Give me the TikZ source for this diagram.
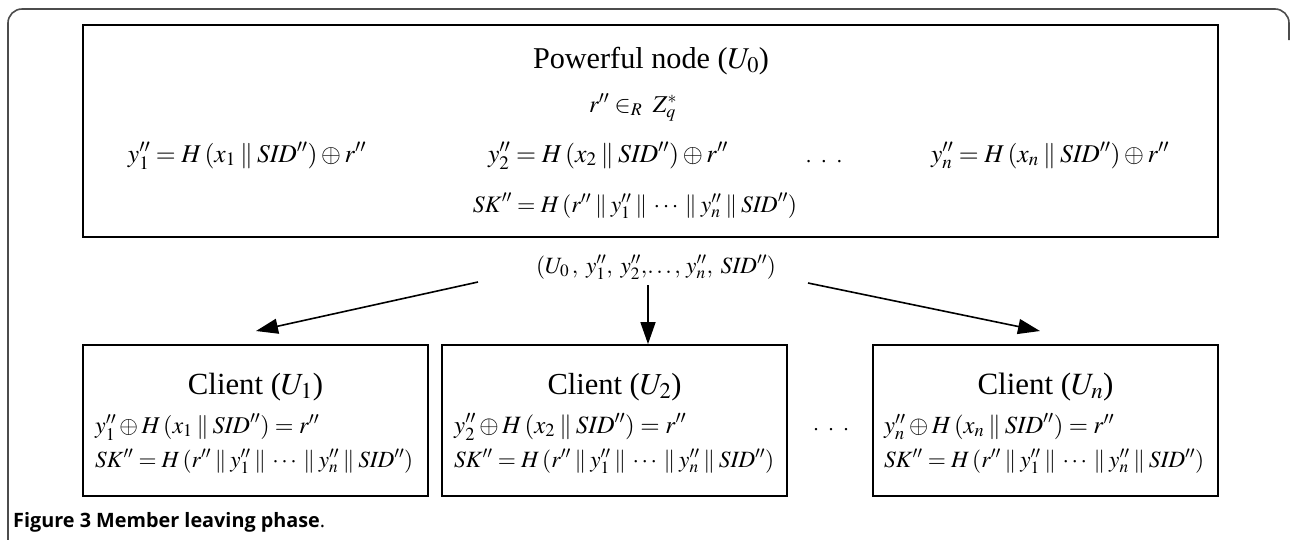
\documentclass[tikz,border=0pt]{standalone}
\usepackage{mathptmx}
\usepackage{graphicx}
\usepackage{fontspec}
\setmainfont{Liberation Serif}
\newfontfamily\capfont{Open Sans}
\usetikzlibrary{arrows.meta}

% double prime, concatenation bars
\newcommand{\dpr}{^{\prime\prime}}
\newcommand{\pl}{\mskip3mu\|\mskip3mu}
% scale a piece of text to a given width
\newcommand{\fitto}[2]{\resizebox{#1}{!}{#2}}

\tikzset{
  frame/.style={draw=black!70, line width=1.6pt, rounded corners=14pt},
  box/.style={draw, line width=1.8pt, inner sep=0pt},
  title/.style={font=\fontsize{31}{36}\selectfont, inner sep=0pt, anchor=base},
  eq/.style={font=\fontsize{25}{30}\selectfont, inner sep=0pt, anchor=base},
  eql/.style={eq, anchor=base west},
  flow/.style={line width=1.6pt, -{Triangle[length=22pt,width=15pt]}},
  caption/.style={font=\capfont\fontsize{18}{22}\selectfont, anchor=base west, inner sep=0pt}
}

\begin{document}
\begin{tikzpicture}[x=1pt,y=-1pt]
\useasboundingbox (0,0) rectangle (1290,539);

% figure frame
\draw[frame] (8,560) -- (8,9) -- (1289,9) -- (1289,40);

% powerful node
\node[box, minimum width=1135pt, minimum height=212pt] (pw) at (650.5,131) {};
\node[title] (pwt) at (651,68) {\fitto{236pt}{Powerful node ($U_0$)}};
\node[eq] (rnd) at (633,112) {\fitto{88pt}{$r\dpr \in_{R}\; Z_q^{*}$}};
\node[eq] (y1) at (247,162) {\fitto{238pt}{$y_1\dpr = H\,(x_1 \pl \mathit{SID}\dpr) \oplus r\dpr$}};
\node[eq] (y2) at (608,162) {\fitto{240pt}{$y_2\dpr = H\,(x_2 \pl \mathit{SID}\dpr) \oplus r\dpr$}};
\node[eq] (ydots) at (824,162) {\fitto{36pt}{.\hspace{0.5em}.\hspace{0.5em}.}};
\node[eq] (yn) at (1050,162) {\fitto{238pt}{$y_n\dpr = H\,(x_n \pl \mathit{SID}\dpr) \oplus r\dpr$}};
\node[eq] (sk) at (635,212) {\fitto{324pt}{$\mathit{SK}\dpr = H\,(r\dpr \pl y_1\dpr \pl \cdots \pl y_n\dpr \pl \mathit{SID}\dpr)$}};

% broadcast message
\node[eq] (msg) at (656,273) {\fitto{240pt}{$(U_{0}\,,\; y_1\dpr,\; y_2\dpr,\!\ldots,\, y_n\dpr,\; \mathit{SID}\dpr)$}};

% clients
\node[box, minimum width=345pt, minimum height=151pt] (c1) at (255.5,420.5) {};
\node[box, minimum width=345pt, minimum height=151pt] (c2) at (614.5,420.5) {};
\node[box, minimum width=345pt, minimum height=151pt] (cn) at (1045.5,420.5) {};

\node[title] (c1t) at (255.5,394) {\fitto{135pt}{Client ($U_1$)}};
\node[eql] (c1a) at (95,433) {\fitto{224pt}{$y_1\dpr \oplus H\,(x_1 \pl \mathit{SID}\dpr) = r\dpr$}};
\node[eql] (c1b) at (95,467) {\fitto{318pt}{$\mathit{SK}\dpr = H\,(r\dpr \pl y_1\dpr \pl \cdots \pl y_n\dpr \pl \mathit{SID}\dpr)$}};

\node[title] (c2t) at (614.5,394) {\fitto{134pt}{Client ($U_2$)}};
\node[eql] (c2a) at (454,433) {\fitto{232pt}{$y_2\dpr \oplus H\,(x_2 \pl \mathit{SID}\dpr) = r\dpr$}};
\node[eql] (c2b) at (454,467) {\fitto{320pt}{$\mathit{SK}\dpr = H\,(r\dpr \pl y_1\dpr \pl \cdots \pl y_n\dpr \pl \mathit{SID}\dpr)$}};

\node[eq] (cdots) at (831,430) {\fitto{35pt}{.\hspace{0.5em}.\hspace{0.5em}.}};

\node[title] (cnt) at (1045.5,394) {\fitto{136pt}{Client ($U_n$)}};
\node[eql] (cna) at (884,433) {\fitto{230pt}{$y_n\dpr \oplus H\,(x_n \pl \mathit{SID}\dpr) = r\dpr$}};
\node[eql] (cnb) at (884,467) {\fitto{320pt}{$\mathit{SK}\dpr = H\,(r\dpr \pl y_1\dpr \pl \cdots \pl y_n\dpr \pl \mathit{SID}\dpr)$}};

% arrows from the broadcast to the clients
\coordinate (s1) at (478,282);
\coordinate (e1) at (256,331);
\coordinate (s2) at (648,285);
\coordinate (s3) at (808,283);
\coordinate (e3) at (1040,331);
\draw[flow] (s1) -- (e1);
\draw[flow] (s2) -- (c2.north -| s2);
\draw[flow] (s3) -- (e3);

% caption
\node[caption] (cap) at (13,527) {\fitto{312pt}{\textbf{Figure 3 Member leaving phase}.}};
\end{tikzpicture}
\end{document}
